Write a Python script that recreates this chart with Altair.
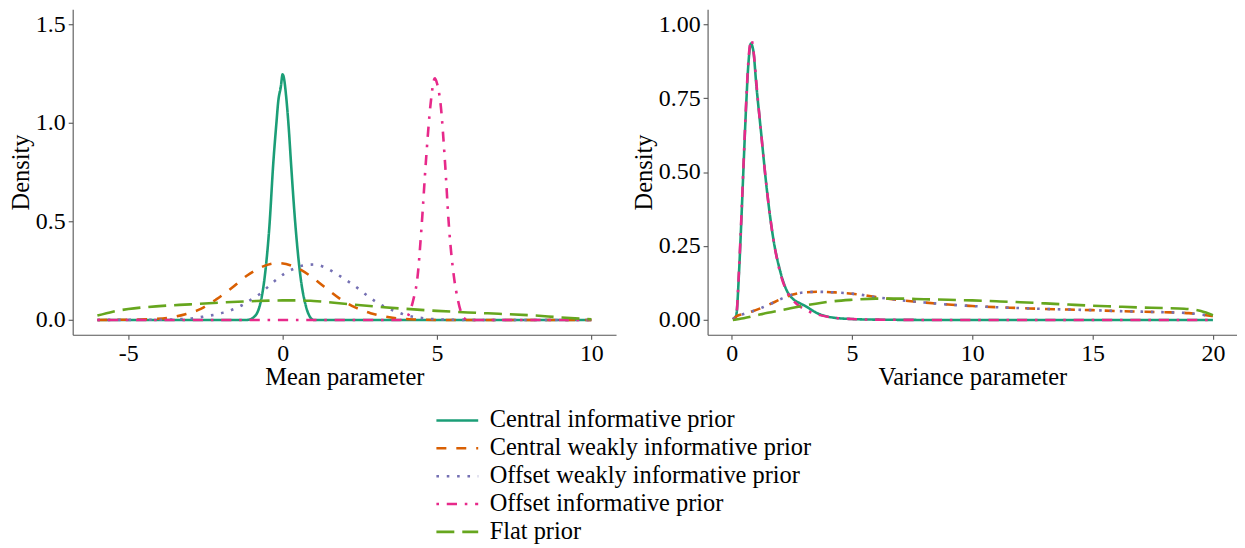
import altair as alt
import pandas as pd

PRIORS = ["Central informative prior", "Central weakly informative prior",
          "Offset weakly informative prior", "Offset informative prior", "Flat prior"]
COLORS = ["#1B9E77", "#D95F02", "#7570B3", "#E7298A", "#66A61E"]
DASHES = [[1, 0], [10, 10], [2.6, 7.8], [2.6, 7.8, 10.3, 7.8], [18, 8]]

# ---- Mean parameter panel ----
mean_ci_x = [-6, -1.15, -0.95, -0.75, -0.58, -0.43, -0.3, -0.2, -0.14, -0.06, 0.0, 0.05, 0.11, 0.2, 0.27, 0.42, 0.58, 0.76, 0.9, 1.0, 10]
mean_ci_y = [0, 0, 0.012, 0.067, 0.218, 0.47, 0.8, 1.0, 1.11, 1.18, 1.245, 1.22, 1.14, 0.97, 0.8, 0.47, 0.218, 0.067, 0.012, 0, 0]

mean_cw_x = [-6, -4.65, -4.15, -3.65, -3.15, -2.65, -2.15, -1.65, -1.15, -0.65, -0.15, 0.35, 0.85, 1.35, 1.85, 2.35, 2.85, 3.35, 3.85, 4.35, 5, 10]
mean_cw_y = [0, 0.002, 0.005, 0.012, 0.029, 0.056, 0.104, 0.162, 0.225, 0.27, 0.288, 0.272, 0.228, 0.168, 0.108, 0.064, 0.034, 0.016, 0.006, 0.002, 0, 0]

mean_ow_x = [-6, -4, -3, -2.55, -1.92, -1.6, -1.29, -1.01, -0.72, -0.47, -0.21, 0.06, 0.37, 0.69, 1.02, 1.35, 1.65, 1.96, 2.25, 2.51, 2.77, 3.04, 3.31, 3.67, 3.99, 4.31, 4.66, 5.0, 6, 10]
mean_ow_y = [0, 0.001, 0.007, 0.017, 0.037, 0.054, 0.077, 0.104, 0.134, 0.168, 0.203, 0.235, 0.26, 0.277, 0.281, 0.268, 0.243, 0.212, 0.182, 0.152, 0.12, 0.09, 0.066, 0.043, 0.025, 0.014, 0.007, 0.003, 0, 0]

mean_oi_x = [-6, 3.8, 4.0, 4.23, 4.37, 4.5, 4.64, 4.79, 4.93, 5.0, 5.12, 5.26, 5.39, 5.55, 5.68, 5.87, 6.03, 10]
mean_oi_y = [0, 0, 0.01, 0.1, 0.218, 0.47, 0.8, 1.09, 1.225, 1.2, 1.09, 0.8, 0.47, 0.218, 0.1, 0.01, 0, 0]

mean_fl_x = [-6, -5.5, -5, -4, -3, -2, -1, 0, 0.6, 1, 2, 3, 4, 5, 6, 7, 8, 9, 10]
mean_fl_y = [0.022, 0.042, 0.055, 0.07, 0.079, 0.088, 0.095, 0.099, 0.099, 0.096, 0.082, 0.068, 0.056, 0.046, 0.038, 0.031, 0.024, 0.013, 0.003]

# ---- Variance parameter panel ----
var_ci_x = [0.1, 0.2, 0.3, 0.4, 0.5, 0.6, 0.7, 0.8, 0.9, 1.03, 1.24, 1.45, 1.72, 2.0, 2.27, 2.62, 2.85, 3.1, 3.5, 4.2, 5, 6, 8, 20]
var_ci_y = [0, 0.02, 0.15, 0.33, 0.53, 0.72, 0.87, 0.934, 0.91, 0.79, 0.62, 0.45, 0.28, 0.17, 0.103, 0.066, 0.056, 0.045, 0.025, 0.008, 0.003, 0.001, 0, 0]

var_cw_x = [0.05, 0.2, 0.5, 0.9, 1.3, 1.72, 2.1, 2.55, 3.0, 3.6, 4.3, 5.2, 6, 7, 8, 9, 10, 11, 12, 13, 14, 15, 16, 17, 18, 19, 19.5, 20]
var_cw_y = [0.002, 0.012, 0.02, 0.03, 0.043, 0.058, 0.073, 0.086, 0.093, 0.095, 0.093, 0.087, 0.077, 0.067, 0.059, 0.052, 0.047, 0.043, 0.04, 0.037, 0.035, 0.033, 0.03, 0.028, 0.026, 0.023, 0.018, 0.013]

var_ow_x = [0.05, 0.2, 0.5, 0.9, 1.3, 1.72, 2.1, 2.55, 3.0, 3.6, 4.3, 5.2, 6, 7, 8, 9, 10, 11, 12, 13, 14, 15, 16, 17, 18, 19, 19.5, 20]
var_ow_y = [0.002, 0.012, 0.02, 0.03, 0.043, 0.058, 0.073, 0.086, 0.093, 0.095, 0.093, 0.087, 0.077, 0.067, 0.059, 0.052, 0.047, 0.043, 0.04, 0.037, 0.035, 0.033, 0.03, 0.028, 0.026, 0.023, 0.018, 0.013]

var_oi_x = [0.1, 0.2, 0.3, 0.4, 0.5, 0.6, 0.7, 0.82, 0.92, 1.05, 1.25, 1.45, 1.72, 2.0, 2.27, 2.62, 3.1, 3.5, 4.2, 5, 6, 8, 20]
var_oi_y = [0, 0.02, 0.16, 0.34, 0.54, 0.73, 0.88, 0.948, 0.9, 0.78, 0.61, 0.45, 0.28, 0.165, 0.1, 0.06, 0.033, 0.02, 0.008, 0.003, 0.001, 0, 0]

var_fl_x = [0.05, 0.5, 1, 1.5, 2, 2.5, 3, 3.5, 4, 5, 6, 7, 8, 9, 10, 11, 12, 13, 14, 15, 16, 17, 18, 18.8, 19.5, 20]
var_fl_y = [0, 0.006, 0.015, 0.024, 0.032, 0.04, 0.048, 0.055, 0.061, 0.068, 0.072, 0.072, 0.07, 0.068, 0.066, 0.063, 0.06, 0.056, 0.052, 0.048, 0.045, 0.042, 0.04, 0.038, 0.03, 0.016]


def build(series):
    rows = []
    for prior, xs, ys in series:
        for x, y in zip(xs, ys):
            rows.append({"prior": prior, "x": x, "y": y})
    return pd.DataFrame(rows)


mean_df = build([
    (PRIORS[0], mean_ci_x, mean_ci_y),
    (PRIORS[1], mean_cw_x, mean_cw_y),
    (PRIORS[2], mean_ow_x, mean_ow_y),
    (PRIORS[3], mean_oi_x, mean_oi_y),
    (PRIORS[4], mean_fl_x, mean_fl_y),
])
var_df = build([
    (PRIORS[0], var_ci_x, var_ci_y),
    (PRIORS[1], var_cw_x, var_cw_y),
    (PRIORS[2], var_ow_x, var_ow_y),
    (PRIORS[3], var_oi_x, var_oi_y),
    (PRIORS[4], var_fl_x, var_fl_y),
])

FONT = "Liberation Serif"

legend = alt.Legend(
    title=None, orient="none", legendX=364, legendY=401, direction="vertical",
    symbolType="stroke", symbolSize=1764, symbolStrokeWidth=2.6,
    labelFont=FONT, labelFontSize=24.5, labelColor="black", labelOffset=10,
    rowPadding=2, clipHeight=24.3, labelLimit=0,
)


def axis_kw():
    return dict(labelFont=FONT, labelFontSize=24, labelColor="black",
                titleFont=FONT, titleFontSize=24.5, titleFontWeight="normal",
                titleColor="black", labelFlush=False)


def panel(df, xtitle, xdom, xvals, ydom, yvals, yfmt, w):
    return alt.Chart(df).mark_line(strokeWidth=2.6, interpolate="monotone").encode(
        x=alt.X("x:Q", title=xtitle,
                scale=alt.Scale(domain=xdom, nice=False, zero=False),
                axis=alt.Axis(values=xvals, labelPadding=2, titlePadding=1,
                              labelExpr="replace(datum.label, '\u2212', '-')", **axis_kw())),
        y=alt.Y("y:Q", title="Density",
                scale=alt.Scale(domain=ydom, nice=False, zero=False),
                axis=alt.Axis(values=yvals, format=yfmt, labelPadding=3, titlePadding=2, **axis_kw())),
        color=alt.Color("prior:N", scale=alt.Scale(domain=PRIORS, range=COLORS), legend=legend),
        strokeDash=alt.StrokeDash("prior:N", scale=alt.Scale(domain=PRIORS, range=DASHES), legend=legend),
    ).properties(width=w, height=327)


left = panel(mean_df, "Mean parameter", [-6.8, 10.8], [-5, 0, 5, 10],
             [-0.075, 1.575], [0, 0.5, 1.0, 1.5], ".1f", 546)
right = panel(var_df, "Variance parameter", [-1, 21], [0, 5, 10, 15, 20],
              [-0.05, 1.05], [0, 0.25, 0.5, 0.75, 1.0], ".2f", 532)

chart = alt.hconcat(left, right, spacing=15).properties(
    padding={"left": 0, "top": 0, "right": 0, "bottom": 0}
).configure_view(stroke=None).configure_axis(
    domainColor="#555555", domainWidth=1.1, tickColor="#555555", tickSize=4.5, tickWidth=1.1,
    grid=False, labelFont=FONT, titleFont=FONT,
)

chart.save("out.html", embed_options={"renderer": "svg", "actions": False})
